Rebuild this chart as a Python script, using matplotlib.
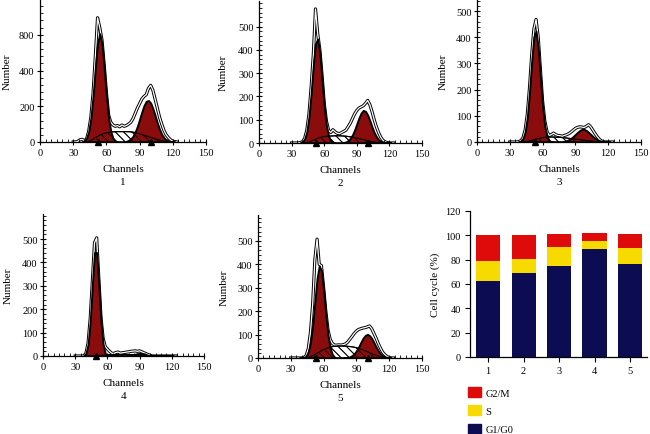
import numpy as np
import matplotlib
matplotlib.use("Agg")
import matplotlib.pyplot as plt
import matplotlib.patheffects as pe
from matplotlib.patches import Patch
from matplotlib.ticker import MultipleLocator, FixedLocator, FixedFormatter

plt.rcParams['font.family'] = ['Liberation Serif', 'DejaVu Serif']
plt.rcParams['hatch.linewidth'] = 0.6

# channel grids for the fitted components and the raw histogram
G1_CH = np.arange(38, 71, 2)
G2_CH = np.arange(78, 119, 2)
S_CH = np.arange(42, 123, 4)
RAW_CH = np.arange(30, 125, 2)

# panel 1
p1_g1 = [1, 6, 20, 57, 134, 259, 415, 551, 606, 551, 415, 259, 134, 57, 20, 6, 1]
p1_g2 = [4, 9, 17, 32, 56, 88, 127, 168, 204, 228, 232, 218, 187, 148, 107, 71, 43, 24, 12, 6, 2]
p1_s = [0, 8, 25, 38, 48, 54, 57, 58, 58, 58, 57, 53, 46, 38, 30, 22, 14, 7, 2, 0, 0]
p1_raw = [0, 0, 3, 12, 15, 8, 15, 60, 140, 275, 480, 695, 640, 570, 430, 275, 150, 110, 95, 88,
          92, 85, 95, 88, 92, 100, 110, 130, 160, 190, 215, 240, 255, 265, 300, 317, 290, 240,
          190, 140, 100, 65, 40, 25, 12, 5, 2, 0]

# panel 2
p2_g1 = [1, 5, 17, 48, 112, 213, 333, 426, 447, 386, 273, 159, 76, 30, 9, 3, 1]
p2_g2 = [2, 5, 10, 20, 35, 56, 82, 108, 129, 140, 136, 120, 96, 69, 45, 27, 14, 7, 3, 1, 0]
p2_s = [0, 4, 12, 20, 26, 29, 30, 31, 31, 30, 28, 25, 21, 17, 12, 8, 4, 2, 0, 0, 0]
p2_raw = [0, 0, 0, 0, 2, 5, 20, 55, 125, 240, 380, 576, 470, 400, 290, 170, 95, 55, 45, 57,
          48, 42, 40, 45, 50, 55, 70, 85, 105, 125, 140, 150, 155, 160, 170, 183, 165, 135,
          100, 70, 45, 25, 12, 5, 2, 0, 0, 0]

# panel 3
p3_g1 = [1, 3, 12, 37, 93, 188, 306, 401, 423, 360, 247, 136, 61, 22, 6, 1, 0]
p3_g2 = [1, 3, 5, 9, 14, 21, 29, 37, 44, 48, 48, 44, 37, 29, 21, 14, 9, 5, 3, 1, 0]
p3_s = [0, 2, 6, 11, 15, 18, 19, 19, 18, 17, 15, 13, 11, 9, 7, 5, 3, 1, 0, 0, 0]
p3_raw = [0, 0, 0, 0, 1, 5, 15, 45, 105, 205, 330, 430, 468, 400, 275, 155, 80, 40, 25, 28,
          34, 28, 25, 24, 22, 25, 28, 32, 38, 45, 52, 56, 58, 57, 55, 60, 66, 58,
          45, 32, 20, 10, 4, 1, 0, 0, 0, 0]

# panel 4
p4_g1 = [2, 11, 49, 147, 306, 442, 442, 306, 147, 49, 11, 2, 0, 0, 0, 0, 0]
p4_g2 = [0, 1, 3, 5, 8, 10, 11, 11, 9, 6, 3, 1, 0, 0, 0, 0, 0, 0, 0, 0, 0]
p4_s = [0, 0, 1, 3, 4, 5, 6, 6, 6, 6, 6, 5, 4, 3, 1, 0, 0, 0, 0, 0, 0]
p4_raw = [0, 0, 0, 0, 0, 12, 55, 160, 320, 484, 505, 330, 165, 75, 40, 30, 20, 12, 11, 15,
          17, 12, 14, 15, 17, 18, 20, 21, 22, 20, 22, 18, 14, 10, 6, 3, 0, 0,
          0, 0, 0, 0, 0, 0, 0, 0, 0, 0]

# panel 5
p5_g1 = [0, 0, 2, 8, 26, 66, 139, 240, 339, 393, 374, 292, 186, 99, 43, 15, 4]
p5_g2 = [0, 1, 2, 5, 10, 18, 31, 47, 66, 84, 96, 101, 96, 84, 66, 47, 31, 18, 10, 5, 2]
p5_s = [0, 2, 10, 20, 31, 40, 47, 50, 51, 51, 50, 48, 44, 38, 31, 23, 15, 8, 3, 0, 0]
p5_raw = [0, 0, 0, 0, 0, 0, 2, 10, 40, 110, 230, 420, 508, 400, 395, 300, 200, 120, 80, 62,
          55, 55, 56, 55, 57, 60, 68, 80, 92, 105, 115, 122, 125, 128, 130, 133, 137, 125,
          105, 85, 62, 42, 25, 14, 6, 2, 0, 0]

# peak markers on the channel axis
p1_marks = [52, 100]
p2_marks = [52, 100]
p3_marks = [53]
p4_marks = [49]
p5_marks = [53, 101]

# cell cycle distribution (%)
groups = ['1', '2', '3', '4', '5']
g1g0 = [62.7, 68.8, 75.1, 88.5, 76.7]
s_phase = [15.9, 12.0, 15.0, 7.1, 12.6]
g2m = [21.9, 19.7, 11.3, 6.3, 11.8]

DARK_RED = '#8a0c0c'
W, H = 650, 435


def px_rect(x0, x1, y_base, y_top):
    return [x0 / W, (H - y_base) / H, (x1 - x0) / W, (y_base - y_top) / H]


def histogram(rect, g1, g2, s, raw, marks, ymax, yticks, ylabels, ymin_step, lab_x, num):
    ax = fig.add_axes(rect)
    hatch = '\\\\\\\\'
    # raw histogram underneath, so only the part above the fit shows
    ax.plot(RAW_CH, raw, color='white', lw=0.9, zorder=1,
            path_effects=[pe.Stroke(linewidth=2.3, foreground='black'), pe.Normal()])
    ax.fill_between(S_CH, s, facecolor='white', edgecolor='black', hatch=hatch, lw=0.8, zorder=2)
    ax.fill_between(G1_CH, g1, facecolor=DARK_RED, edgecolor='black', lw=1.4, zorder=3)
    ax.fill_between(G2_CH, g2, facecolor=DARK_RED, edgecolor='black', lw=1.4, zorder=3)
    ax.fill_between(S_CH, s, facecolor='none', edgecolor='black', hatch=hatch, lw=0.8, zorder=4)
    ax.plot(marks, [0] * len(marks), '^', color='black', ms=4.5, clip_on=False, zorder=5)

    ax.set_xlim(0, 150)
    ax.set_ylim(0, ymax)
    ax.xaxis.set_major_locator(MultipleLocator(30))
    ax.xaxis.set_minor_locator(MultipleLocator(5))
    ax.yaxis.set_major_locator(FixedLocator(yticks))
    ax.yaxis.set_major_formatter(FixedFormatter(ylabels))
    ax.yaxis.set_minor_locator(MultipleLocator(ymin_step))
    ax.tick_params(which='major', direction='inout', length=4, width=0.8, labelsize=7.5, pad=2)
    ax.tick_params(which='minor', direction='in', length=2, width=0.6)
    for side in ['top', 'right']:
        ax.spines[side].set_visible(False)
    ax.spines['left'].set_linewidth(0.9)
    ax.spines['bottom'].set_linewidth(0.9)
    ax.set_ylabel('Number', fontsize=8)
    ax.yaxis.set_label_coords(lab_x, 0.5)
    ax.set_xlabel('Channels', fontsize=8)
    ah = rect[3] * H
    ax.xaxis.set_label_coords(0.5, -22 / ah)
    ax.text(0.5, -40 / ah, num, transform=ax.transAxes, ha='center', va='center', fontsize=8)
    return ax


fig = plt.figure(figsize=(6.5, 4.35), dpi=100)

# the first panel's labels are printed as 0, 200, 400, 800 on evenly spaced ticks
histogram(px_rect(40, 206, 143, 0), p1_g1, p1_g2, p1_s, p1_raw, p1_marks, 800,
          [0, 200, 400, 600], ['0', '200', '400', '800'], 40, -0.17, '1')
t5 = [0, 100, 200, 300, 400, 500]
l5 = [str(v) for v in t5]
histogram(px_rect(259, 422, 144, 2), p2_g1, p2_g2, p2_s, p2_raw, p2_marks, 610,
          t5, l5, 20, -0.19, '2')
histogram(px_rect(477, 641, 143, 0), p3_g1, p3_g2, p3_s, p3_raw, p3_marks, 546,
          t5, l5, 20, -0.18, '3')
histogram(px_rect(43, 204, 357, 215), p4_g1, p4_g2, p4_s, p4_raw, p4_marks, 607,
          t5, l5, 20, -0.19, '4')
histogram(px_rect(258, 422, 359, 216), p5_g1, p5_g2, p5_s, p5_raw, p5_marks, 611,
          t5, l5, 20, -0.18, '5')

# stacked bar chart
axb = fig.add_axes(px_rect(470, 647, 358, 212))
x = np.arange(1, 6)
bw = 0.68
c_g1, c_s, c_g2 = '#0c0c52', '#f7da00', '#df0a0a'
axb.bar(x, g1g0, bw, color=c_g1)
axb.bar(x, s_phase, bw, bottom=g1g0, color=c_s)
axb.bar(x, g2m, bw, bottom=np.add(g1g0, s_phase), color=c_g2)
axb.set_xlim(0.49, 5.48)
axb.set_ylim(0, 120)
axb.set_xticks(x)
axb.set_xticklabels(groups)
axb.yaxis.set_major_locator(MultipleLocator(20))
axb.tick_params(direction='out', length=3.5, width=0.8, labelsize=7.5, pad=3)
for side in ['top', 'right']:
    axb.spines[side].set_visible(False)
axb.spines['left'].set_linewidth(0.9)
axb.spines['bottom'].set_linewidth(0.9)
axb.set_ylabel('Cell cycle (%)', fontsize=8)
axb.yaxis.set_label_coords(-0.17, 0.5)

handles = [Patch(color=c_g2, label='G2/M'), Patch(color=c_s, label='S'),
           Patch(color=c_g1, label='G1/G0')]
fig.legend(handles=handles, loc='upper left', bbox_to_anchor=(468 / W, 1 - 388 / H),
           frameon=False, fontsize=7.5, handlelength=1.2, handleheight=1.1,
           handletextpad=0.5, labelspacing=0.75, borderpad=0, borderaxespad=0)

fig.savefig('out.png', dpi=100)
